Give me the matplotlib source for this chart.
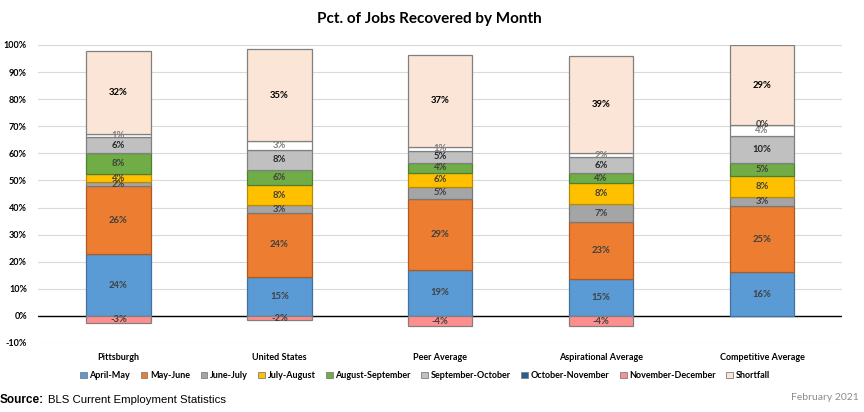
import matplotlib.pyplot as plt
from matplotlib.patches import Patch

plt.rcParams['font.family'] = ['Lato', 'DejaVu Sans']

locations = ["Pittsburgh", "United States", "Peer Average",
             "Aspirational Average", "Competitive Average"]

# segment heights (pct points)
april_may = [22.8, 14.4, 17.0, 13.5, 16.1]
may_june = [25.0, 23.7, 26.3, 21.0, 24.5]
june_july = [1.5, 2.7, 4.2, 6.9, 3.4]
july_aug = [3.2, 7.6, 5.4, 7.6, 7.7]
aug_sep = [7.6, 5.4, 3.7, 3.8, 4.8]
sep_oct = [5.9, 7.6, 4.3, 5.8, 9.8]
oct_nov = [1.1, 3.0, 1.5, 1.35, 4.2]
nov_dec = [-2.5, -1.6, -3.9, -3.9, 0.0]
shortfall = [30.5, 34.1, 33.9, 35.9, 29.4]

# data labels as printed on the chart
april_may_lbl = [24, 15, 19, 15, 16]
may_june_lbl = [26, 24, 29, 23, 25]
june_july_lbl = [2, 3, 5, 7, 3]
july_aug_lbl = [4, 8, 6, 8, 8]
aug_sep_lbl = [8, 6, 4, 4, 5]
sep_oct_lbl = [6, 8, 5, 6, 10]
oct_nov_lbl = [1, 3, 1, 2, 4]
nov_dec_lbl = [-3, -2, -4, -4, 0]
shortfall_lbl = [32, 35, 37, 39, 29]

# name, heights, labels, bar colour, legend colour, edge colour, text colour
series = [
    ("April-May", april_may, april_may_lbl, "#5B9BD5", "#5B9BD5", "#41719C", "#404040"),
    ("May-June", may_june, may_june_lbl, "#ED7D31", "#ED7D31", "#AE5A21", "#404040"),
    ("June-July", june_july, june_july_lbl, "#A5A5A5", "#A5A5A5", "#787878", "#404040"),
    ("July-August", july_aug, july_aug_lbl, "#FFC000", "#FFC000", "#BC8C00", "#404040"),
    ("August-September", aug_sep, aug_sep_lbl, "#70AD47", "#70AD47", "#507E32", "#404040"),
    ("September-October", sep_oct, sep_oct_lbl, "#C0C0C0", "#C0C0C0", "#808080", "#262626"),
    ("October-November", oct_nov, oct_nov_lbl, "#FFFFFF", "#255E91", "#808080", "#7F7F7F"),
    ("November-December", nov_dec, nov_dec_lbl, "#FF8F8F", "#FF8F8F", "#808080", "#404040"),
    ("Shortfall", shortfall, shortfall_lbl, "#FBE5D6", "#FBE5D6", "#808080", "#000000"),
]

fig = plt.figure(figsize=(8.64, 4.12), dpi=100)
ax = fig.add_axes([0.044, 0.1675, 0.931, 0.7233])

x = list(range(len(locations)))
pos = [0.0] * len(x)
neg = [0.0] * len(x)
for name, vals, lbls, col, _, edge, tcol in series:
    bottoms = []
    for i, v in enumerate(vals):
        if v >= 0:
            bottoms.append(pos[i])
            pos[i] += v
        else:
            bottoms.append(neg[i])
            neg[i] += v
    ax.bar(x, vals, bottom=bottoms, width=0.4, color=col, edgecolor=edge,
           linewidth=0.9, zorder=3)
    for i, (v, b, l) in enumerate(zip(vals, bottoms, lbls)):
        ax.text(x[i], b + v / 2, f"{l}%", ha="center", va="center",
                fontsize=6.8, fontweight="bold", color=tcol, zorder=4)

ax.set_xlim(-0.5, len(x) - 0.5)
ax.set_ylim(-10, 100)
ax.set_yticks(range(-10, 101, 10))
ax.set_yticklabels([f"{t}%" for t in range(-10, 101, 10)],
                   fontsize=6.5, fontweight="bold")
ax.set_xticks(x)
ax.set_xticklabels(locations, fontsize=6.5, fontweight="bold")
ax.tick_params(length=0, axis="y", pad=8)
ax.tick_params(length=0, axis="x", pad=7)
ax.grid(axis="y", color="#D9D9D9", linewidth=0.8, zorder=0)
ax.axhline(0, color="black", linewidth=1.0, zorder=2)
for s in ax.spines.values():
    s.set_visible(False)

fig.text(0.497, 0.955, "Pct. of Jobs Recovered by Month", ha="center",
         va="center", fontsize=11, fontweight="bold")

handles = [Patch(facecolor=s[4], edgecolor="#7F7F7F", linewidth=0.6) for s in series]
fig.legend(handles, [s[0] for s in series], loc="center",
           bbox_to_anchor=(0.492, 0.088), ncol=9, frameon=False,
           prop={"size": 6.5, "weight": "bold"}, handlelength=0.75,
           handleheight=0.75, handletextpad=0.3, columnspacing=1.15)

fig.text(0.0, 0.028, "Source:", ha="left", va="center", fontsize=8.5,
         fontweight="bold", family="Liberation Sans")
fig.text(0.055, 0.028, "BLS Current Employment Statistics", ha="left",
         va="center", fontsize=8.2, family="Liberation Sans")
fig.text(0.994, 0.035, "February 2021", ha="right", va="center",
         fontsize=7.5, color="#8C8C8C")

fig.savefig("out.png", dpi=100)
